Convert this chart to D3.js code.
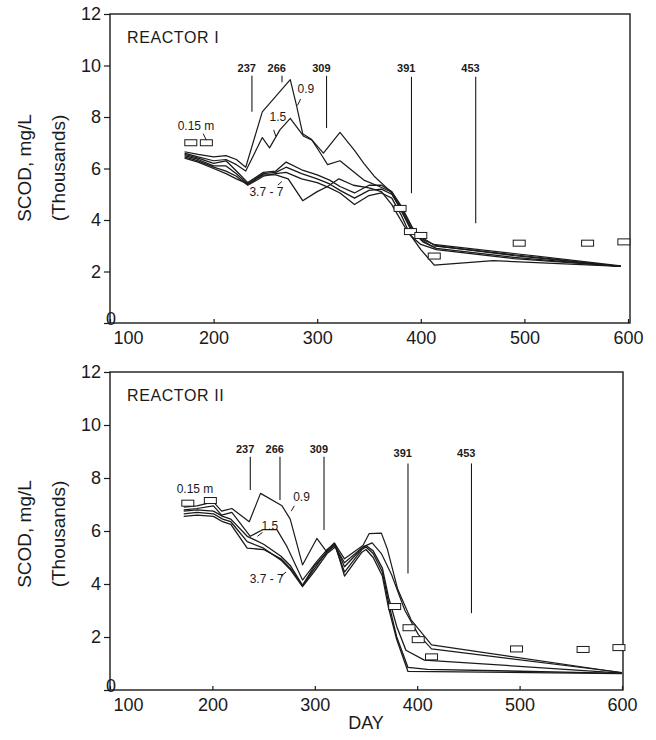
<!DOCTYPE html>
<html>
<head>
<meta charset="utf-8">
<script src="https://cdn.jsdelivr.net/npm/d3@7"></script>
<style>
  html, body { margin: 0; padding: 0; background: #ffffff; }
  svg { display: block; }
  text { font-family: "Liberation Sans", Arial, Helvetica, sans-serif; fill: #1a1a1a; }
  .small { font-family: "Liberation Sans Narrow", "Liberation Sans", Arial, sans-serif; }
</style>
</head>
<body>
<svg id="chart" width="656" height="740"></svg>
<script>
// ---------------- DATA ----------------
const xTicks = [100, 200, 300, 400, 500, 600];
const yTicks = [0, 2, 4, 6, 8, 10, 12];
const panelTitles = ["REACTOR I", "REACTOR II"];
const eventDays = [237, 266, 309, 391, 453];

// Reactor I event line extents (SCOD thousands mg/L)
const r1EventTop = [9.6, 9.6, 9.6, 9.56, 9.56];
const r1EventBottom = [8.2, 9.35, 7.57, 5.04, 3.87];
const r1EventLabel = [9.75, 9.75, 9.75, 9.75, 9.75];
// Reactor II event line extents
const r2EventTop = [8.8, 8.8, 8.8, 8.55, 8.55];
const r2EventBottom = [7.55, 7.17, 6.04, 4.4, 2.9];
const r2EventLabel = [8.95, 8.95, 8.95, 8.8, 8.8];

// Reactor I – depth 0.15 m (open rectangles)
const r1_015 = [[178,7.0],[193,7.0],[380,4.45],[390,3.55],[400,3.4],[413,2.6],[495,3.1],[561,3.1],[596,3.15]];
// Reactor I – 0.9 m
const r1_09 = [[172,6.65],[185,6.55],[200,6.45],[212,6.5],[222,6.35],[231,6.05],[247,8.2],[274,9.45],[280,8.45],[286,7.35],[294,7.15],[306,6.6],[322,7.4],[336,6.7],[345,6.2],[355,5.7],[371,5.1],[378,4.6],[390,3.65],[400,3.25],[410,3.0],[490,2.65],[593,2.2]];
// Reactor I – 1.5 m
const r1_15 = [[172,6.6],[185,6.45],[200,6.3],[212,6.35],[222,6.15],[231,5.9],[247,7.2],[254,6.8],[264,7.5],[274,7.95],[287,7.25],[295,7.1],[303,6.6],[310,6.15],[322,6.3],[345,5.55],[360,5.3],[371,5.1],[380,4.55],[391,3.7],[402,3.3],[412,3.05],[490,2.7],[593,2.22]];
// Reactor I – 3.7 to 7 m
const r1_deepA = [[172,6.55],[185,6.4],[200,6.2],[212,6.3],[222,5.9],[233,5.45],[248,5.85],[260,5.9],[270,6.25],[285,5.95],[300,5.75],[312,5.55],[322,5.3],[336,5.05],[350,5.35],[362,5.35],[372,5.1],[381,4.55],[392,3.7],[402,3.25],[415,3.0],[490,2.62],[593,2.2]];
const r1_deepB = [[172,6.5],[185,6.35],[200,6.1],[212,6.1],[222,5.8],[233,5.4],[248,5.8],[260,5.85],[270,6.05],[285,5.8],[300,5.6],[312,5.4],[322,5.15],[336,4.85],[350,5.15],[362,5.2],[372,5.0],[381,4.4],[392,3.55],[402,3.15],[415,2.9],[490,2.55],[593,2.2]];
const r1_deepC = [[172,6.45],[185,6.3],[200,6.05],[212,5.9],[222,5.7],[233,5.35],[248,5.7],[260,5.8],[270,5.85],[285,5.6],[300,5.45],[312,5.25],[322,5.05],[336,4.6],[350,4.95],[362,5.05],[372,4.85],[381,4.2],[390,3.4],[400,3.05],[415,2.85],[490,2.5],[593,2.2]];
const r1_deepD = [[172,6.4],[185,6.25],[200,6.0],[212,5.8],[222,5.6],[233,5.4],[248,5.75],[260,5.75],[272,5.6],[286,4.75],[300,5.1],[310,5.3],[321,5.6],[335,5.35],[350,5.25],[362,5.1],[372,4.6],[385,3.7],[400,2.85],[413,2.25],[470,2.42],[593,2.2]];

// Reactor II – depth 0.15 m (open rectangles)
const r2_015 = [[176,7.05],[198,7.15],[378,3.15],[392,2.35],[401,1.9],[414,1.25],[497,1.55],[562,1.53],[597,1.6]];
// Reactor II – 0.9 m
const r2_09 = [[172,6.9],[185,6.95],[201,7.1],[209,6.75],[219,6.85],[236,6.35],[247,7.42],[268,6.95],[276,6.45],[288,4.72],[302,5.72],[311,5.25],[319,5.55],[329,4.95],[347,5.45],[353,5.9],[365,5.92],[371,5.3],[381,3.8],[394,2.65],[414,1.7],[600,0.65]];
// Reactor II – 1.5 m
const r2_15 = [[172,6.8],[185,6.85],[201,6.95],[209,6.6],[219,6.7],[237,5.8],[249,6.05],[263,6.05],[273,5.4],[288,4.15],[302,4.85],[312,5.3],[319,5.5],[329,4.8],[347,5.4],[356,5.55],[365,5.15],[375,4.35],[388,3.0],[401,2.1],[414,1.55],[600,0.66]];
// Reactor II – 3.7 to 7 m
const r2_deepA = [[172,6.75],[185,6.8],[201,6.75],[210,6.55],[218,6.45],[234,5.8],[250,5.5],[267,5.05],[276,4.7],[288,3.95],[300,4.6],[312,5.25],[320,5.45],[329,4.65],[346,5.35],[350,5.45],[357,5.25],[366,4.6],[372,3.5],[380,2.4],[389,1.5],[407,1.13],[600,0.64]];
const r2_deepB = [[172,6.65],[185,6.7],[201,6.65],[210,6.45],[218,6.35],[234,5.6],[250,5.35],[267,4.9],[276,4.55],[288,3.9],[300,4.5],[312,5.15],[320,5.4],[329,4.45],[346,5.3],[350,5.4],[357,5.15],[366,4.45],[372,3.3],[380,2.0],[391,0.85],[410,0.78],[600,0.63]];
const r2_deepC = [[172,6.55],[185,6.6],[201,6.55],[210,6.35],[218,6.25],[234,5.35],[250,5.3],[267,4.95],[276,4.6],[288,3.95],[300,4.7],[312,5.2],[320,5.5],[329,4.3],[346,5.2],[350,5.3],[357,5.0],[366,4.3],[372,3.1],[380,1.9],[391,0.7],[600,0.62]];

// Depth labels: [text, day, value]
const r1DepthLabels = [["0.15 m",183,7.5],["0.9",289,8.95],["1.5",262,7.85],["3.7 - 7",251,4.95]];
const r2DepthLabels = [["0.15 m",183,7.45],["0.9",287,7.15],["1.5",256,6.05],["3.7 - 7",253,4.05]];
// Leader strokes: [day1, val1, day2, val2]
const r1Leaders = [[190,7.35,193,7.1],[284,8.7,281,8.45],[258,7.5,260,7.25],[262,5.35,266,5.5]];
const r2Leaders = [[280,6.95,277,6.75],[249,5.95,244,5.8],[267,4.3,272,4.45]];

// ---------------- DRAW ----------------
const svg = d3.select("#chart");
svg.append("rect").attr("width", 656).attr("height", 740).attr("fill", "#ffffff");

const panels = [
  { title: panelTitles[0], left: 110, right: 630, xEnd: 628, top: 14, bottom: 323,
    series: [r1_09, r1_15, r1_deepA, r1_deepB, r1_deepC, r1_deepD], squares: r1_015,
    evTop: r1EventTop, evBottom: r1EventBottom, evLabel: r1EventLabel,
    labels: r1DepthLabels, leaders: r1Leaders, titleY: 43, ylabY: 168 },
  { title: panelTitles[1], left: 110, right: 623, xEnd: 622, top: 372, bottom: 690,
    series: [r2_09, r2_15, r2_deepA, r2_deepB, r2_deepC], squares: r2_015,
    evTop: r2EventTop, evBottom: r2EventBottom, evLabel: r2EventLabel,
    labels: r2DepthLabels, leaders: r2Leaders, titleY: 401, ylabY: 534 }
];

panels.forEach((p) => {
  const x = d3.scaleLinear().domain([100, 600]).range([p.left, p.xEnd]);
  const y = d3.scaleLinear().domain([0, 12]).range([p.bottom, p.top]);
  const g = svg.append("g");

  // frame
  g.append("rect")
    .attr("x", p.left).attr("y", p.top)
    .attr("width", p.right - p.left).attr("height", p.bottom - p.top)
    .attr("fill", "none").attr("stroke", "#1a1a1a").attr("stroke-width", 1.4);

  // y axis
  const ya = g.append("g").attr("transform", `translate(${p.left},0)`)
    .call(d3.axisLeft(y).tickValues(yTicks).tickSize(6).tickPadding(3).tickSizeOuter(0));
  ya.select(".domain").remove();
  ya.selectAll("line").attr("stroke", "#1a1a1a").attr("stroke-width", 1.2);
  ya.selectAll("text").style("font-size", "18px").style("fill", "#1a1a1a")
    .attr("font-family", "Liberation Sans, Arial, sans-serif");
  ya.selectAll(".tick").filter(d => d === 0).select("text").attr("dx", 15).attr("dy", "0.1em");

  // x axis
  const xa = g.append("g").attr("transform", `translate(0,${p.bottom})`)
    .call(d3.axisBottom(x).tickValues(xTicks).tickSize(-4).tickPadding(8).tickSizeOuter(0));
  xa.select(".domain").remove();
  xa.selectAll("line").attr("stroke", "#1a1a1a").attr("stroke-width", 1.2);
  xa.selectAll("text").style("font-size", "18px").style("fill", "#1a1a1a")
    .attr("font-family", "Liberation Sans, Arial, sans-serif");
  xa.selectAll(".tick").filter(d => d === 100).select("text").attr("dx", 18);

  // titles
  g.append("text").attr("x", p.left + 17).attr("y", p.titleY)
    .style("font-size", "16px").style("letter-spacing", "0.6px").text(p.title);

  g.append("text").attr("transform", `translate(31,${p.ylabY}) rotate(-90)`)
    .attr("text-anchor", "middle").style("font-size", "19px").text("SCOD, mg/L");
  g.append("text").attr("transform", `translate(65,${p.ylabY}) rotate(-90)`)
    .attr("text-anchor", "middle").style("font-size", "19px").text("(Thousands)");

  // event lines
  eventDays.forEach((d, i) => {
    g.append("line")
      .attr("x1", x(d)).attr("x2", x(d))
      .attr("y1", y(p.evTop[i])).attr("y2", y(p.evBottom[i]))
      .attr("stroke", "#1a1a1a").attr("stroke-width", 1.1);
    g.append("text").attr("class", "small")
      .attr("x", x(d) + 4).attr("y", y(p.evLabel[i]))
      .attr("text-anchor", "end")
      .style("font-size", "11px").style("font-weight", "bold").text(d);
  });

  // series lines
  const line = d3.line().x(d => x(d[0])).y(d => y(d[1]));
  p.series.forEach((s, i) => {
    g.append("path").datum(s).attr("d", line)
      .attr("fill", "none").attr("stroke", "#1a1a1a")
      .attr("stroke-width", i < 2 ? 1.2 : 1.3)
      .attr("stroke-linejoin", "round");
  });

  // 0.15 m rectangles
  g.selectAll(".sq").data(p.squares).enter().append("rect")
    .attr("x", d => x(d[0]) - 6).attr("y", d => y(d[1]) - 3)
    .attr("width", 12).attr("height", 6)
    .attr("fill", "#ffffff").attr("stroke", "#1a1a1a").attr("stroke-width", 1);

  // depth labels
  p.labels.forEach(l => {
    g.append("text").attr("class", "small")
      .attr("x", x(l[1])).attr("y", y(l[2]))
      .attr("text-anchor", "middle")
      .style("font-size", "12px").text(l[0]);
  });
  p.leaders.forEach(l => {
    g.append("line")
      .attr("x1", x(l[0])).attr("y1", y(l[1]))
      .attr("x2", x(l[2])).attr("y2", y(l[3]))
      .attr("stroke", "#1a1a1a").attr("stroke-width", 1);
  });
});

// x-axis title
svg.append("text").attr("x", 366).attr("y", 729).attr("text-anchor", "middle")
  .style("font-size", "18px").text("DAY");
</script>
</body>
</html>
